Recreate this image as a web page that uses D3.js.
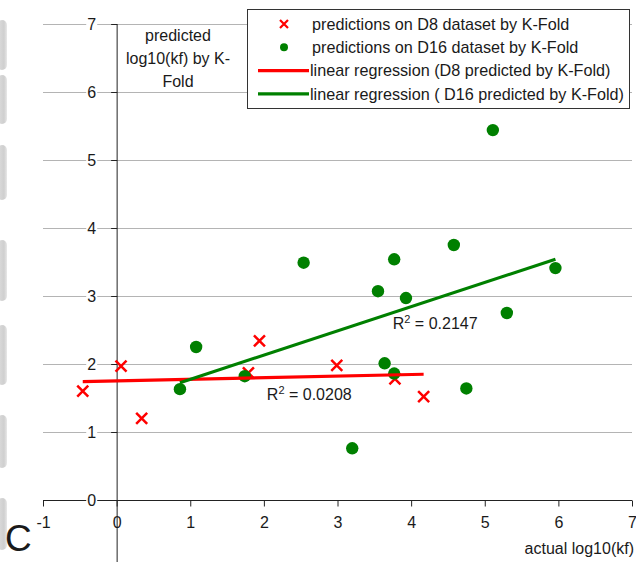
<!DOCTYPE html>
<html>
<head>
<meta charset="utf-8">
<script src="https://cdn.jsdelivr.net/npm/d3@7/dist/d3.min.js"></script>
<style>
  html, body { margin: 0; padding: 0; background: #fff; }
  svg { display: block; }
  text { font-family: "Liberation Sans", Arial, sans-serif; fill: #1a1a1a; }
</style>
</head>
<body>
<svg id="chart" width="636" height="562"></svg>
<script>
// ---- data ----
const d8X  = [-0.46, 0.06, 0.34, 1.94, 1.79, 2.99, 3.78, 4.17];
const d8Y  = [1.60, 1.97, 1.20, 2.34, 1.87, 1.98, 1.78, 1.52];
const d16X = [0.86, 1.08, 1.74, 2.54, 3.20, 3.55, 3.64, 3.77, 3.77, 3.93, 4.58, 4.75, 5.11, 5.30, 5.96];
const d16Y = [1.63, 2.25, 1.82, 3.49, 0.76, 3.07, 2.01, 3.54, 1.86, 2.97, 3.75, 1.64, 5.44, 2.75, 3.41];
// trendlines: [intercept, slope]
const d8Fit  = [1.751, 0.0236];
const d16Fit = [1.419, 0.356];
const r2Labels = ["0.0208", "0.2147"];
const xTicks = [-1, 0, 1, 2, 3, 4, 5, 6, 7];
const yTicks = [0, 1, 2, 3, 4, 5, 6, 7];
const legendLabels = [
  "predictions on D8 dataset by K-Fold",
  "predictions on D16 dataset by K-Fold",
  "linear regression (D8 predicted by K-Fold)",
  "linear regression ( D16 predicted by K-Fold)"
];
const yTitle = ["predicted", "log10(kf) by K-", "Fold"];
const xTitle = "actual log10(kf)";
const panelLetter = "C";

// ---- styles / layout ----
const RED = "#ff0000", GREEN = "#008000", GRID = "#b4b4b4", AXIS = "#222";
const FONT = 16;
const fmt = d => String(d); // plain hyphen-minus as in the original

const svg = d3.select("#chart");
const x = d3.scaleLinear().domain([-1, 7]).range([43, 632]);
const y = d3.scaleLinear().domain([-1, 7]).range([568, 24]);

// decorative grey strips on the left edge of the original scan
const strips = [[20, 70], [75, 124], [145, 200], [240, 301], [325, 385], [415, 468], [498, 550]];
const grad = svg.append("defs").append("linearGradient").attr("id", "stripG");
grad.append("stop").attr("offset", "0%").attr("stop-color", "#dedede");
grad.append("stop").attr("offset", "70%").attr("stop-color", "#cfcfcf");
grad.append("stop").attr("offset", "100%").attr("stop-color", "#e8e8e8");
svg.selectAll("rect.strip").data(strips).enter().append("rect")
  .attr("x", -3).attr("width", 10).attr("rx", 5)
  .attr("y", d => d[0]).attr("height", d => d[1] - d[0])
  .attr("fill", "url(#stripG)");

// gridlines
svg.append("g").selectAll("line").data(yTicks).enter().append("line")
  .attr("x1", x(-1)).attr("x2", x(7))
  .attr("y1", d => y(d) + 0.5).attr("y2", d => y(d) + 0.5)
  .attr("stroke", GRID).attr("stroke-width", 1);

// axes
const xAxisG = svg.append("g").attr("transform", `translate(0,${y(0) + 0.5})`)
  .call(d3.axisBottom(x).tickValues(xTicks).tickSize(6).tickPadding(10).tickFormat(fmt));
const yAxisG = svg.append("g").attr("transform", `translate(${x(0) + 0.5},0)`)
  .call(d3.axisLeft(y).tickValues(yTicks).tickSize(6).tickPadding(15).tickFormat(fmt));
[xAxisG, yAxisG].forEach(g => {
  g.select(".domain").attr("stroke", AXIS);
  g.selectAll(".tick line").attr("stroke", AXIS);
  g.selectAll("text").attr("font-size", FONT).attr("font-family", '"Liberation Sans", Arial, sans-serif').attr("fill", "#1a1a1a");
});
xAxisG.select(".domain").attr("d", `M${x(-1)},0H${x(7)}`);
yAxisG.select(".domain").attr("d", `M0,${y(-1)}V${y(7)}`);
xAxisG.selectAll(".tick text").attr("dy", "0.71em");
// white backgrounds behind tick labels (they interrupt lines in the original)
function whiteBehind(g) {
  g.selectAll(".tick").each(function () {
    const t = d3.select(this).select("text");
    const bb = t.node().getBBox();
    d3.select(this).insert("rect", "text")
      .attr("x", bb.x - 1).attr("y", bb.y).attr("width", bb.width + 2).attr("height", bb.height)
      .attr("fill", "#fff");
  });
}
whiteBehind(xAxisG);
whiteBehind(yAxisG);
// extra tick at y = -1 (its label falls below the picture edge)
yAxisG.append("line").attr("x1", -6).attr("x2", 0).attr("y1", y(-1)).attr("y2", y(-1)).attr("stroke", AXIS);

// y title
svg.append("text").attr("text-anchor", "middle").attr("font-size", FONT)
  .selectAll("tspan").data(yTitle).enter().append("tspan")
  .attr("x", 178).attr("y", (d, i) => 41 + i * 23).text(d => d);

// x title
svg.append("text").attr("x", 634).attr("y", 554).attr("text-anchor", "end")
  .attr("font-size", FONT).text(xTitle);

// panel letter
svg.append("text").attr("x", 5).attr("y", 551).attr("font-size", 37).attr("fill", "#111").text(panelLetter);

// ---- marks ----
const crossPath = s => `M${-s},${-s}L${s},${s}M${-s},${s}L${s},${-s}`;
const d8 = d8X.map((v, i) => [v, d8Y[i]]);
const d16 = d16X.map((v, i) => [v, d16Y[i]]);

svg.append("g").selectAll("path").data(d8).enter().append("path")
  .attr("transform", d => `translate(${x(d[0])},${y(d[1])})`)
  .attr("d", crossPath(5.5)).attr("stroke", RED).attr("stroke-width", 2.5).attr("fill", "none");

svg.append("g").selectAll("circle").data(d16).enter().append("circle")
  .attr("cx", d => x(d[0])).attr("cy", d => y(d[1])).attr("r", 6.2).attr("fill", GREEN);

function fitLine(fit, xs, color) {
  const x0 = d3.min(xs), x1 = d3.max(xs);
  svg.append("line")
    .attr("x1", x(x0)).attr("y1", y(fit[0] + fit[1] * x0))
    .attr("x2", x(x1)).attr("y2", y(fit[0] + fit[1] * x1))
    .attr("stroke", color).attr("stroke-width", 3.2);
}
fitLine(d8Fit, d8X, RED);
fitLine(d16Fit, d16X, GREEN);

// R² labels
const r2Pos = [[2.04, 1.47], [3.75, 2.51]];
r2Labels.forEach((v, i) => {
  const t = svg.append("text").attr("x", x(r2Pos[i][0])).attr("y", y(r2Pos[i][1])).attr("font-size", FONT);
  t.append("tspan").text("R");
  t.append("tspan").attr("font-size", 11).attr("dy", -6).text("2");
  t.append("tspan").attr("dy", 6).text(" = " + v);
});

// ---- legend ----
const lg = svg.append("g");
lg.append("rect").attr("x", 247.5).attr("y", 9.5).attr("width", 382).attr("height", 99)
  .attr("fill", "#fff").attr("stroke", "#333").attr("stroke-width", 1);
const rowY = i => 24 + i * 23.3;
lg.append("path").attr("transform", `translate(284,${rowY(0)})`)
  .attr("d", crossPath(4)).attr("stroke", RED).attr("stroke-width", 2.2).attr("fill", "none");
lg.append("circle").attr("cx", 284).attr("cy", rowY(1)).attr("r", 4).attr("fill", GREEN);
lg.append("line").attr("x1", 258).attr("x2", 309).attr("y1", rowY(2)).attr("y2", rowY(2))
  .attr("stroke", RED).attr("stroke-width", 3.2);
lg.append("line").attr("x1", 258).attr("x2", 309).attr("y1", rowY(3)).attr("y2", rowY(3))
  .attr("stroke", GREEN).attr("stroke-width", 3.2);
lg.selectAll("text").data(legendLabels).enter().append("text")
  .attr("x", (d, i) => i < 2 ? 312 : 310).attr("y", (d, i) => rowY(i)).attr("dy", "0.35em")
  .attr("font-size", 16.2).text(d => d);
</script>
</body>
</html>
